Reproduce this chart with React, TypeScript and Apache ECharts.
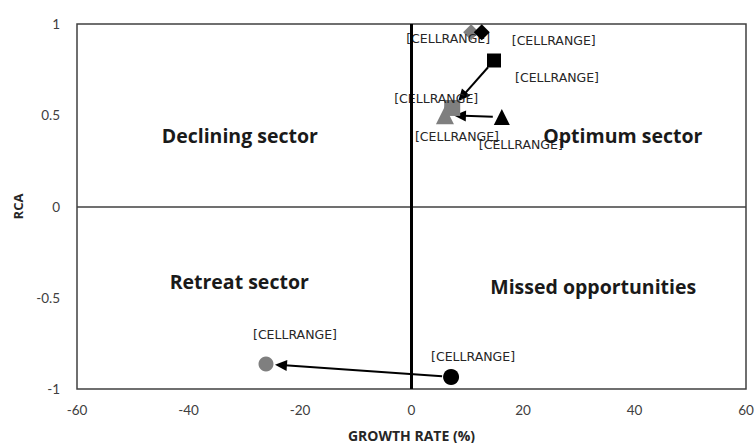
import React, { useEffect, useRef } from "react";
import * as echarts from "echarts";

// Data
const xTicks = [-60, -40, -20, 0, 20, 40, 60];
const yTicks = [-1, -0.5, 0, 0.5, 1];

// [x (growth rate %), y (RCA)]
const blackDiamond = [12.6, 0.955];
const grayDiamond = [10.7, 0.955];
const blackSquare = [14.8, 0.8];
const graySquare = [7.3, 0.54];
const blackTriangle = [16.2, 0.49];
const grayTriangle = [6.0, 0.5];
const blackCircle = [7.1, -0.934];
const grayCircle = [-26.1, -0.863];

const pointLabel = "[CELLRANGE]";

const quadrantNames = ["Declining sector", "Optimum sector", "Retreat sector", "Missed opportunities"];
const quadrantPos = [
  [-30.8, 0.39],
  [37.9, 0.39],
  [-30.9, -0.41],
  [32.6, -0.44],
];

// arrows from the black marker to the gray marker
const arrows = [
  [blackSquare, graySquare],
  [blackTriangle, grayTriangle],
  [blackCircle, grayCircle],
];

const FONT = "Lato, 'Open Sans', sans-serif";
const BOLD_FONT = "'Open Sans', sans-serif";
const LABEL_FONT = "'DejaVu Sans', sans-serif";
const BLACK = "#000000";
const GRAY = "#7f7f7f";

function pointSeries(name: string, pt: number[], symbol: string, size: number, color: string, offset: number[], z: number) {
  return {
    name,
    type: "scatter",
    data: [pt],
    symbol,
    symbolSize: size,
    itemStyle: { color, opacity: 1 },
    z,
    label: {
      show: true,
      formatter: pointLabel,
      position: "inside",
      offset,
      fontFamily: LABEL_FONT,
      fontSize: 12.5,
      color: "#262626",
    },
  };
}

export default function App() {
  const ref = useRef<HTMLDivElement>(null);
  useEffect(() => {
    const chart = echarts.init(ref.current!, null, { renderer: "svg" });
    const option: any = {
      animation: false,
      backgroundColor: "#ffffff",
      grid: {
        left: 77,
        right: 10,
        top: 24,
        bottom: 54,
        outerBoundsMode: "none",
        containLabel: false,
        show: true,
        borderColor: "#404040",
        borderWidth: 1.5,
      },
      xAxis: {
        type: "value",
        min: xTicks[0],
        max: xTicks[xTicks.length - 1],
        interval: 20,
        name: "GROWTH RATE (%)",
        nameLocation: "middle",
        nameGap: 39,
        nameTextStyle: { fontFamily: BOLD_FONT, fontWeight: "bold", fontSize: 14, color: "#262626", verticalAlign: "top" },
        axisLine: { show: false, onZero: false },
        axisTick: { show: false },
        splitLine: { show: false },
        axisLabel: { fontFamily: FONT, fontSize: 13.5, color: "#404040", margin: 14 },
      },
      yAxis: {
        type: "value",
        min: yTicks[0],
        max: yTicks[yTicks.length - 1],
        interval: 0.5,
        name: "RCA",
        nameLocation: "middle",
        nameGap: 53,
        nameTextStyle: { fontFamily: BOLD_FONT, fontWeight: "bold", fontSize: 13, color: "#262626" },
        axisLine: { show: false, onZero: false },
        axisTick: { show: false },
        splitLine: { show: false },
        axisLabel: { fontFamily: FONT, fontSize: 13.5, color: "#404040", margin: 17 },
      },
      series: [
        {
          type: "scatter",
          data: [],
          silent: true,
          markLine: {
            silent: true,
            symbol: "none",
            label: { show: false },
            data: [
              { yAxis: 0, lineStyle: { color: "#404040", width: 1.5, type: "solid" } },
              { xAxis: 0, lineStyle: { color: "#000000", width: 3, type: "solid" } },
            ],
          },
        },
        {
          type: "custom",
          z: 3,
          silent: true,
          data: arrows.map((a) => [a[0][0], a[0][1], a[1][0], a[1][1]]),
          renderItem: (params: any, api: any) => {
            const p0 = api.coord([api.value(0), api.value(1)]);
            const p1 = api.coord([api.value(2), api.value(3)]);
            const dx = p1[0] - p0[0];
            const dy = p1[1] - p0[1];
            const len = Math.sqrt(dx * dx + dy * dy);
            const ux = dx / len;
            const uy = dy / len;
            const startGap = 9;
            const endGap = 9;
            const headLen = 12;
            const headW = 5.5;
            const s = [p0[0] + ux * startGap, p0[1] + uy * startGap];
            const tip = [p1[0] - ux * endGap, p1[1] - uy * endGap];
            const base = [tip[0] - ux * headLen, tip[1] - uy * headLen];
            const nx = -uy;
            const ny = ux;
            return {
              type: "group",
              children: [
                {
                  type: "line",
                  shape: { x1: s[0], y1: s[1], x2: base[0] + ux * 2, y2: base[1] + uy * 2 },
                  style: { stroke: "#000", lineWidth: 2 },
                },
                {
                  type: "polygon",
                  shape: {
                    points: [
                      tip,
                      [base[0] + nx * headW, base[1] + ny * headW],
                      [base[0] - nx * headW, base[1] - ny * headW],
                    ],
                  },
                  style: { fill: "#000" },
                },
              ],
            };
          },
        },
        pointSeries("grayDiamond", grayDiamond, "diamond", 16, GRAY, [-23, 6], 4),
        pointSeries("blackDiamond", blackDiamond, "diamond", 16, BLACK, [72, 8], 5),
        pointSeries("blackSquare", blackSquare, "rect", 14, BLACK, [63, 17], 5),
        pointSeries("graySquare", graySquare, "rect", 16, GRAY, [-16, -9], 4),
        pointSeries("blackTriangle", blackTriangle, "triangle", 16, BLACK, [19, 27], 5),
        pointSeries("grayTriangle", grayTriangle, "triangle", 18, GRAY, [12, 21], 4),
        pointSeries("blackCircle", blackCircle, "circle", 16, BLACK, [22, -20], 5),
        pointSeries("grayCircle", grayCircle, "circle", 15, GRAY, [29, -29], 4),
        {
          type: "scatter",
          silent: true,
          symbolSize: 0,
          z: 6,
          itemStyle: { opacity: 1 },
          data: quadrantNames.map((n, i) => ({ name: n, value: quadrantPos[i] })),
          label: {
            show: true,
            position: "inside",
            formatter: (p: any) => p.name,
            fontFamily: BOLD_FONT,
            fontWeight: "bold",
            fontSize: 19.5,
            color: "#1a1a1a",
          },
        },
      ],
    };
    chart.setOption(option);
    return () => chart.dispose();
  }, []);
  return <div ref={ref} style={{ width: 756, height: 443, position: "absolute", left: 0, top: 0 }} />;
}
